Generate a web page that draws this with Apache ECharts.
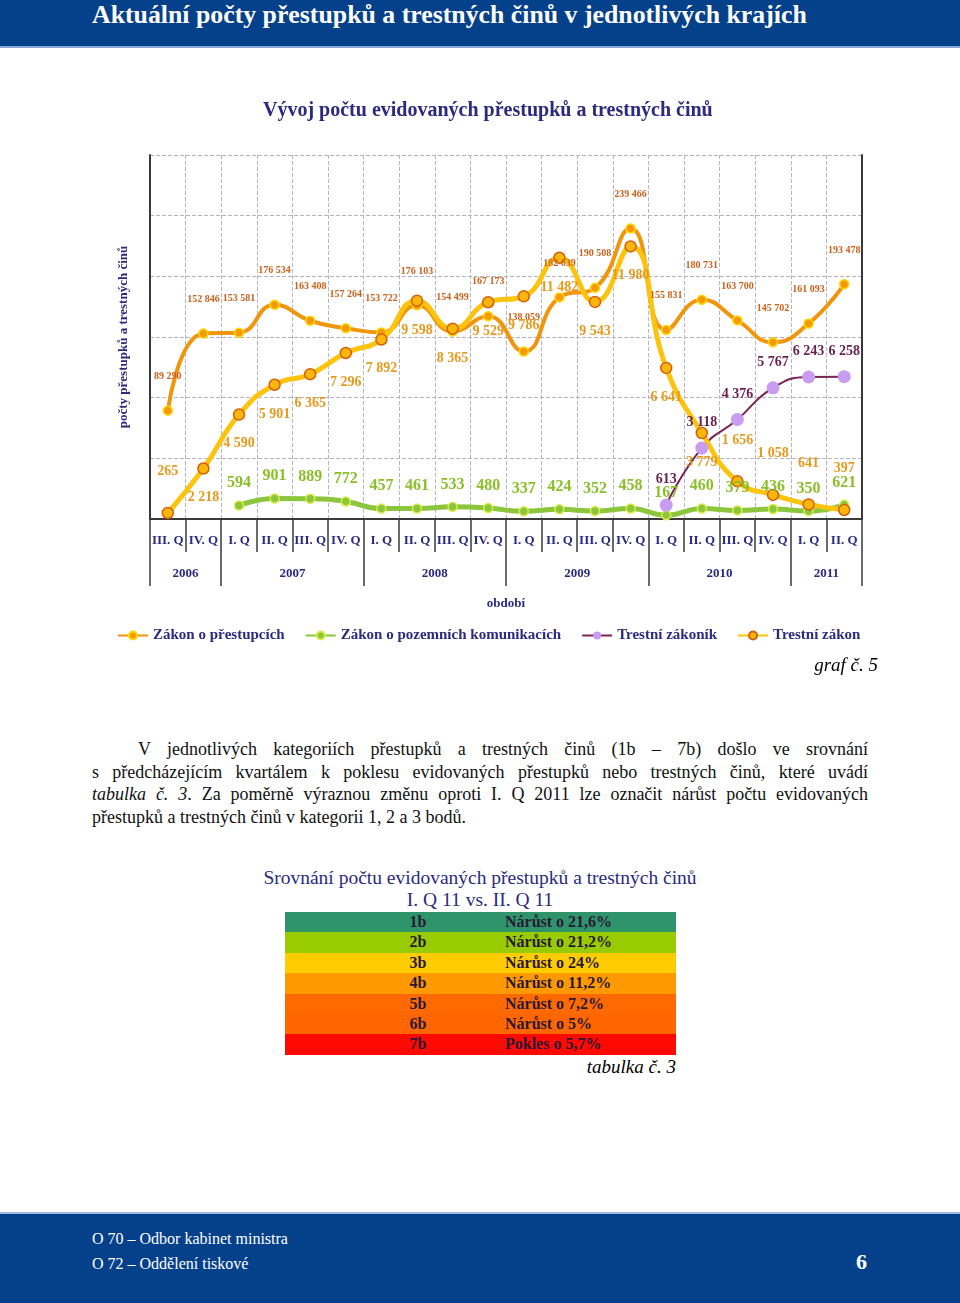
<!DOCTYPE html>
<html>
<head>
<meta charset="utf-8">
<script src="https://cdn.jsdelivr.net/npm/echarts@6/dist/echarts.min.js"></script>
<style>
  body { margin: 0; width: 960px; height: 1303px; position: relative; background: #fff; font-family: 'Liberation Serif', 'Times New Roman', serif; overflow: hidden; }
  .band { position: absolute; left: 0; width: 960px; background: #05418a; }
  #head { top: 0; height: 46px; border-bottom: 2px solid #86a7d2; }
  #head span { position: absolute; left: 92px; top: 0px; color: #fff; font-weight: bold; font-size: 25.8px; }
  #chart { position: absolute; left: 0; top: 50px; width: 960px; height: 640px; }
  #graf { position: absolute; right: 82px; top: 654px; font-style: italic; font-size: 19px; }
  #para { position: absolute; left: 92px; top: 738px; width: 776px; font-size: 18px; line-height: 22.5px; color: #111; }
  #para div { text-align: justify; text-align-last: justify; white-space: nowrap; }
  #para div.last { text-align-last: left; }
  #ttitle { position: absolute; left: 0; width: 960px; top: 867px; text-align: center; font-size: 19.5px; line-height: 22px; color: #2b2a80; }
  #table { position: absolute; left: 285px; top: 912px; width: 391px; }
  .row { position: relative; height: 20.4px; line-height: 20.4px; font-weight: bold; font-size: 16px; color: #2a1838; }
  .row .c1 { position: absolute; left: 0; width: 266px; text-align: center; }
  .row .c2 { position: absolute; left: 220px; }
  #tab { position: absolute; right: 284px; top: 1056px; font-style: italic; font-size: 19px; }
  #foot { top: 1212px; height: 91px; border-top: 2px solid #9dbbe0; color: #fff; }
  #foot .l { position: absolute; left: 92px; font-size: 16px; }
  #foot .n { position: absolute; left: 856px; top: 35px; font-size: 22px; font-weight: bold; }
</style>
</head>
<body>
<div id="head" class="band"><span>Aktuální počty přestupků a trestných činů v jednotlivých krajích</span></div>
<div id="chart"></div>
<div id="graf">graf č. 5</div>
<div id="para">
  <div style="padding-left:46px">V jednotlivých kategoriích přestupků a trestných činů (1b – 7b) došlo ve srovnání</div>
  <div>s&nbsp;předcházejícím kvartálem k&nbsp;poklesu evidovaných přestupků nebo trestných činů, které uvádí</div>
  <div><i>tabulka č. 3</i>. Za poměrně výraznou změnu oproti I. Q 2011 lze označit nárůst počtu evidovaných</div>
  <div class="last">přestupků a trestných činů v kategorii 1, 2 a 3 bodů.</div>
</div>
<div id="ttitle">Srovnání počtu evidovaných přestupků a trestných činů<br>I. Q 11 vs. II. Q 11</div>
<div id="table"></div>
<div id="tab">tabulka č. 3</div>
<div id="foot" class="band">
  <div class="l" style="top:16px">O 70 – Odbor kabinet ministra</div>
  <div class="l" style="top:41px">O 72 – Oddělení tiskové</div>
  <div class="n">6</div>
</div>
<script>
// obdobi
var quarters = ['III. Q','IV. Q','I. Q','II. Q','III. Q','IV. Q','I. Q','II. Q','III. Q','IV. Q',
                'I. Q','II. Q','III. Q','IV. Q','I. Q','II. Q','III. Q','IV. Q','I. Q','II. Q'];
var years = ['2006','2006','2007','2007','2007','2007','2008','2008','2008','2008',
             '2009','2009','2009','2009','2010','2010','2010','2010','2011','2011'];

// hodnoty
var zakonPrestupky = [89290,152846,153581,176534,163408,157264,153722,176103,154499,167173,
                      138059,182639,190508,239466,155831,180731,163700,145702,161093,193478];
var zakonKomunikace = [null,null,594,901,889,772,457,461,533,480,
                       337,424,352,458,167,460,379,436,350,621];
var trestniZakonik = [null,null,null,null,null,null,null,null,null,null,
                      null,null,null,null,613,3118,4376,5767,6243,6258];
var trestniZakon = [265,2218,4590,5901,6365,7296,7892,9598,8365,9529,
                    9786,11482,9543,11980,6641,3779,1656,1058,641,397];

// tabulka
var tabKat = ['1b','2b','3b','4b','5b','6b','7b'];
var tabText = ['Nárůst o 21,6%','Nárůst o 21,2%','Nárůst o 24%','Nárůst o 11,2%','Nárůst o 7,2%','Nárůst o 5%','Pokles o 5,7%'];
var tabBarvy = ['#2f9469','#99cc00','#ffcc00','#ff9900','#ff6a00','#ff6600','#ff0a00'];

var tbl = document.getElementById('table');
tabKat.forEach(function (k, i) {
  var r = document.createElement('div');
  r.className = 'row';
  r.style.background = tabBarvy[i];
  r.innerHTML = '<span class="c1">' + k + '</span><span class="c2">' + tabText[i] + '</span>';
  tbl.appendChild(r);
});

// hranice let pro druhou uroven osy
var yearTicks = [0], yearCenters = [], yearNames = [];
var start = 0;
for (var i = 1; i <= years.length; i++) {
  if (i == years.length || years[i] != years[start]) {
    yearTicks.push(i);
    yearCenters.push((start + i) / 2);
    yearNames.push(years[start]);
    start = i;
  }
}

var font = "'Liberation Serif', 'Times New Roman', serif";
var navy = '#2b2a80';
var gridTop = 105, gridH = 364;
function fmt(v) {
  return String(v).replace(/\B(?=(\d{3})+(?!\d))/g, '\u00a0');
}

var chart = echarts.init(document.getElementById('chart'));
chart.setOption({
  animation: false,
  textStyle: { fontFamily: font },
  title: {
    text: 'Vývoj počtu evidovaných přestupků a trestných činů',
    left: 258, top: 46,
    textStyle: { fontFamily: font, fontSize: 20, fontWeight: 'bold', color: navy }
  },
  legend: {
    left: 112, top: 573,
    itemGap: 20, itemWidth: 30, itemHeight: 10,
    textStyle: { fontFamily: font, fontSize: 15, fontWeight: 'bold', color: navy },
    data: ['Zákon o přestupcích','Zákon o pozemních komunikacích','Trestní zákoník','Trestní zákon']
  },
  grid: { left: 150, top: gridTop, width: 712, height: gridH },
  xAxis: [{
    type: 'category',
    data: quarters,
    boundaryGap: true,
    axisLine: { lineStyle: { color: '#3a3a3a', width: 2 } },
    axisTick: { show: true, length: 33, lineStyle: { color: '#3a3a3a', width: 1.5 } },
    axisLabel: { interval: 0, margin: 15, fontFamily: font, fontSize: 13, fontWeight: 'bold', color: navy },
    splitLine: { show: true, lineStyle: { type: 'dashed', color: '#b4b4c4' } }
  }, {
    type: 'value',
    min: 0, max: years.length,
    position: 'bottom',
    axisLine: { show: false },
    splitLine: { show: false },
    axisTick: { show: true, customValues: yearTicks, length: 67, lineStyle: { color: '#3a3a3a', width: 1.5 } },
    axisLabel: {
      customValues: yearCenters, margin: 48,
      fontFamily: font, fontSize: 13, fontWeight: 'bold', color: navy,
      formatter: function (v) { return yearNames[yearCenters.indexOf(v)] || ''; }
    },
    name: 'období', nameLocation: 'middle', nameGap: 78,
    nameTextStyle: { fontFamily: font, fontSize: 13, fontWeight: 'bold', color: navy }
  }],
  yAxis: [{
    type: 'value',
    min: 0, max: 300000, interval: 50000,
    axisLine: { show: true, lineStyle: { color: '#3a3a3a', width: 2 } },
    axisTick: { show: false },
    axisLabel: { show: false },
    splitLine: { lineStyle: { type: 'dashed', color: '#b4b4c4' } },
    name: 'počty přestupků a trestných činů', nameLocation: 'middle', nameGap: 20,
    nameTextStyle: { fontFamily: font, fontSize: 13, fontWeight: 'bold', color: navy }
  }, {
    type: 'value',
    min: 0, max: 16000,
    position: 'right',
    axisLine: { show: true, lineStyle: { color: '#3a3a3a', width: 2 } },
    axisTick: { show: false },
    axisLabel: { show: false },
    splitLine: { show: false }
  }],
  series: [{
    name: 'Zákon o přestupcích',
    type: 'line', smooth: true, yAxisIndex: 0,
    data: zakonPrestupky,
    symbol: 'circle', symbolSize: 9,
    lineStyle: { color: '#f0950c', width: 4 },
    itemStyle: { color: '#f49a0a', borderColor: '#ffd800', borderWidth: 1.5 },
    label: { show: true, position: 'top', distance: 24, formatter: function (p) { return fmt(p.value); },
             fontFamily: font, fontSize: 10, fontWeight: 'bold', color: '#c9621c' }
  }, {
    name: 'Zákon o pozemních komunikacích',
    type: 'line', smooth: true, yAxisIndex: 1,
    data: zakonKomunikace,
    symbol: 'circle', symbolSize: 9,
    lineStyle: { color: '#8cc63c', width: 5 },
    itemStyle: { color: '#8cc63c', borderColor: '#d8ec48', borderWidth: 1.5 },
    label: { show: true, position: 'top', distance: 9, formatter: function (p) { return fmt(p.value); },
             fontFamily: font, fontSize: 16, fontWeight: 'bold', color: '#8abf2a' }
  }, {
    name: 'Trestní zákoník',
    type: 'line', smooth: true, yAxisIndex: 1,
    data: trestniZakonik,
    symbol: 'circle', symbolSize: 13,
    lineStyle: { color: '#7a2454', width: 2 },
    itemStyle: { color: '#c89cf0' },
    label: { show: true, position: 'top', distance: 12, formatter: function (p) { return fmt(p.value); },
             fontFamily: font, fontSize: 14, fontWeight: 'bold', color: '#6b1f50' }
  }, {
    name: 'Trestní zákon',
    type: 'line', smooth: true, yAxisIndex: 1,
    data: trestniZakon,
    symbol: 'circle', symbolSize: 11,
    lineStyle: { color: '#fcc40e', width: 5 },
    itemStyle: { color: '#fbb60c', borderColor: '#d2600c', borderWidth: 1.5 },
    label: { show: true, position: 'bottom', distance: 16, formatter: function (p) { return fmt(p.value); },
             fontFamily: font, fontSize: 14, fontWeight: 'bold', color: '#e79a1e' },
    // popisky, ktere by padly k ose, dat nad bod
    labelLayout: function (p) {
      if (p.labelRect.y + p.labelRect.height > gridTop + gridH - 5) {
        return { dy: -(p.labelRect.height + p.rect.height + 44) };
      }
      return {};
    }
  }]
});
</script>
</body>
</html>
